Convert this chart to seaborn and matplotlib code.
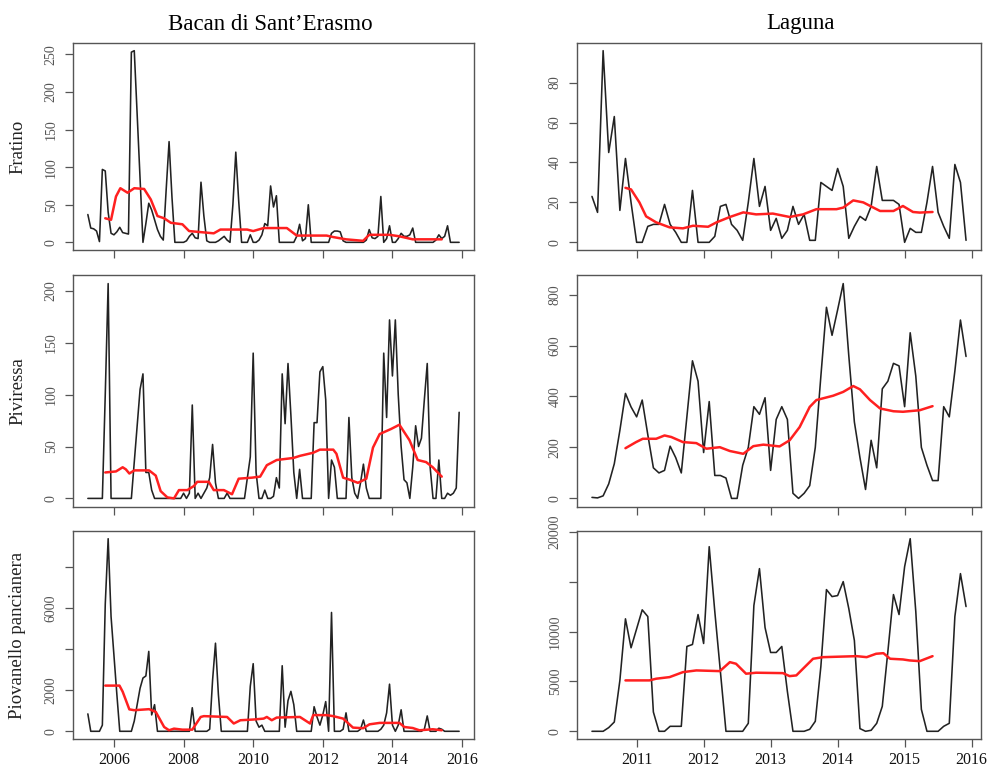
import numpy as np
import matplotlib
matplotlib.use("Agg")
import matplotlib.pyplot as plt
import seaborn as sns

# ---------------- data ----------------
# Bacan di Sant'Erasmo: monthly, Apr 2005 .. Dec 2015
bacan_start = 2005.25
# Laguna: monthly, May 2010 .. Dec 2015
laguna_start = 2010 + 4 / 12

bacan_fratino = [37, 19, 18, 15, 1,
                 97, 95,
                 40, 12, 10, 14, 20, 13, 12, 11,
                 253, 255, 170, 85, 0,
                 25, 52, 43, 30, 17, 8, 3, 70, 134, 60,
                 0, 0, 0, 0, 2, 8, 12, 6, 5,
                 80, 35, 2,
                 0, 0, 0, 2, 5, 8, 3, 0, 50,
                 120, 55, 0,
                 0, 0, 10, 0, 0, 3, 10,
                 25, 22, 75, 47, 62, 0,
                 0, 0, 0, 0, 0, 8, 24, 2, 5,
                 50, 0,
                 0, 0, 0, 0, 0, 0, 12, 15, 15, 14, 2,
                 0, 0, 0, 0, 0, 0, 0, 3, 17, 6, 5, 8,
                 61, 0, 5, 22, 0, 0, 5, 12, 8, 8, 10, 19,
                 0, 0, 0, 0, 0, 0, 0, 3, 10, 5, 8, 22, 0, 0, 0, 0]

bacan_piviressa = [0, 0, 0, 0, 0, 0,
                   100, 207, 0,
                   0, 0, 0, 0, 0, 0, 0,
                   35, 70, 105, 120, 25, 25, 8, 0,
                   0, 0, 0, 0, 0, 0, 0, 0, 0,
                   5, 0, 5, 90, 0, 5, 0, 5, 10, 20, 52, 15, 0,
                   0, 0, 5, 0, 0, 0, 0, 0, 0,
                   20, 40, 140, 25, 0,
                   0, 8, 0, 0, 2, 20, 10,
                   120, 72, 130, 80, 25, 0, 28, 0, 0, 0, 0,
                   73, 73, 122, 127, 95, 0, 37, 30, 0, 0, 0, 0,
                   78, 20, 5, 0, 15, 33, 10, 0, 0, 0, 0, 0,
                   140, 78, 172, 118, 172, 100, 50, 18, 15, 0, 30,
                   70, 50, 58, 95, 130, 30, 0,
                   0, 37, 0, 0, 5, 3, 5, 10, 83]

bacan_piovanello = [850, 0, 0, 0, 0,
                    300, 6200, 9400, 5600, 3700, 1800, 0,
                    0, 0, 0,
                    0, 500, 1300, 2100, 2600, 2700, 3900, 800, 1300, 0,
                    0, 0, 0, 0, 0, 0, 0, 0, 0, 0, 0,
                    1150, 0, 0, 0, 0, 0,
                    100, 2500, 4300, 1800, 0,
                    0, 0, 0, 0, 0, 0, 0, 0, 0,
                    2200, 3300, 500, 200, 300, 0, 0,
                    0, 0, 0, 0, 3200, 200, 1500, 1950, 1300, 0,
                    0, 0, 0, 0, 0,
                    1200, 700, 300, 800, 1450, 0, 5800, 0,
                    0, 0, 100, 900, 0, 0, 0, 0, 100, 550, 0,
                    0, 0, 0, 0, 100, 300, 900, 2300, 300, 0, 300, 1050, 0,
                    0, 0, 0, 0, 0, 0, 100, 750, 0, 0, 0, 150, 100, 0, 0, 0, 0, 0, 0]

laguna_fratino = [23, 15, 96, 45, 63, 16, 42, 20, 0, 0,
                  8, 9, 9, 19, 9, 5, 0, 0, 26, 0,
                  0, 0, 3, 18, 19, 9, 6, 1, 20, 42,
                  18, 28, 6, 12, 2, 6, 18, 9, 14, 1,
                  1, 30, 28, 26, 37, 28, 2, 8, 13, 11,
                  18, 38, 21, 21, 21, 19, 0, 7, 5, 5,
                  20, 38, 15, 8, 2, 39, 30, 1]

laguna_piviressa = [4, 2, 10, 57, 136, 267, 412, 359, 320, 386,
                    250, 120, 100, 110, 205, 160, 100, 320, 540, 460,
                    180, 380, 90, 90, 80, 0, 0, 130, 200, 360,
                    330, 395, 110, 310, 360, 310, 20, 0, 20, 50,
                    200, 480, 750, 640, 740, 843, 560, 300, 160, 35,
                    228, 120, 430, 460, 530, 520, 360, 650, 480, 200,
                    130, 70, 70, 360, 320, 500, 700, 557]

laguna_piovanello = [0, 0, 0, 370, 930, 5100, 11270, 8370, 10270, 12170,
                     11500, 1930, 0, 0, 500, 500, 500, 8500, 8700, 11700,
                     8800, 18500, 12000, 6000, 0, 0, 0, 0, 800, 12600,
                     16300, 10400, 7900, 7900, 8500, 4000, 0, 0, 0, 200,
                     1000, 6500, 14200, 13500, 13600, 15000, 12300, 9100, 270, 0,
                     100, 800, 2500, 8000, 13700, 11700, 16500, 19300, 12000, 2200,
                     0, 0, 0, 500, 800, 11500, 15800, 12500]

# trend (red) lines: month offset from series start, value
bacan_fratino_tr_m = [6, 8, 9.7, 11.2, 13.7, 16, 19.4, 21.7, 24, 26.3, 28.6, 32.6, 34.9, 43.4, 45.7,
                      54.9, 57, 60.6, 68.6, 72, 82.3, 84.6, 89, 94.9, 97, 104, 107.4, 112, 122]
bacan_fratino_tr_v = [32, 30, 61, 72, 66, 72, 71, 57, 35, 32, 26, 24, 15, 12, 17,
                      17, 15, 19, 19, 9, 9, 7, 4, 2, 10, 10, 8, 4, 4]

bacan_piviressa_tr_m = [6, 9.7, 12, 13.1, 14.3, 16, 21.1, 23.4, 25.1, 27.4, 29.7, 31.4, 34.3, 36.6, 37.7,
                        41.7, 43.4, 46.9, 49.7, 52, 56.6, 59.4, 61.7, 65.1, 70.9, 73.1, 77.7, 80, 84.6,
                        85.7, 88, 90.3, 93.1, 96, 98.3, 100.6, 104.6, 107.4, 110.9, 113.7, 116.6, 118.9, 122]
bacan_piviressa_tr_v = [25, 26, 30, 28, 24, 27, 27, 22, 7, 1, 0, 8, 8, 12, 16,
                        16, 8, 8, 4, 19, 20, 21, 32, 37, 39, 41, 44, 47, 47,
                        43, 20, 18, 15, 19, 49, 62, 67, 71, 56, 37, 35, 30, 21]

bacan_piovanello_tr_m = [6, 10.9, 12, 14.3, 16, 21.1, 23.4, 26.3, 28, 29.7, 32.6, 36, 38.9, 40, 48,
                         50.3, 52.6, 57.1, 60.6, 61.7, 63.4, 65.1, 73.1, 76.6, 77.7, 82.3, 84.6, 88,
                         91.4, 94.9, 97.1, 100.6, 107.4, 109.1, 112, 114.3, 118.9, 122]
bacan_piovanello_tr_v = [2230, 2230, 1935, 1070, 1030, 1080, 950, 210, 50, 130, 80, 80, 700, 740, 700,
                         380, 540, 575, 620, 700, 540, 670, 700, 380, 790, 790, 740, 620,
                         180, 150, 340, 410, 410, 210, 160, 50, 100, 50]

laguna_fratino_tr_m = [6, 7, 8.5, 9.7, 11.5, 13.9, 16.3, 18.1, 20.8, 22.3, 24.7, 27.1, 29.4, 32.4,
                       35.4, 37.8, 40.2, 43.8, 45, 46.8, 48.6, 50.4, 51.6, 54, 55.7, 57.5, 58.7, 61]
laguna_fratino_tr_v = [27.3, 26.5, 20, 13, 10, 7.5, 7, 8.3, 7.8, 10, 12.7, 15, 14, 14.4,
                       12.7, 14, 16.6, 16.6, 17.4, 21, 20, 17.4, 15.7, 15.7, 18.2, 15.2, 14.9, 15.2]

laguna_piviressa_tr_m = [6, 7.9, 9.1, 11.5, 13, 14.2, 16.3, 18.7, 20.5, 22.9, 24.7, 27.1, 28.9, 30.7,
                         33.6, 35.4, 37.2, 39, 40.2, 43.2, 45, 46.8, 48, 49.8, 51.6, 54, 55.7, 58.7, 61]
laguna_piviressa_tr_v = [197, 221, 234, 234, 247, 241, 221, 217, 195, 201, 186, 175, 205, 211,
                         204, 228, 280, 359, 386, 403, 418, 441, 428, 386, 353, 342, 340, 346, 362]

laguna_piovanello_tr_m = [6, 10.3, 11.5, 13.9, 16.3, 18.7, 22.9, 24.7, 25.8, 27.6, 29.4, 34.2, 35.4,
                          36.6, 37.8, 39.6, 41.4, 47.4, 49.2, 50.9, 52.2, 53.4, 55.7, 56.9, 58.7, 61]
laguna_piovanello_tr_v = [5100, 5100, 5270, 5430, 5930, 6100, 6030, 6930, 6770, 5770, 5870, 5830, 5530,
                          5600, 6270, 7270, 7430, 7530, 7430, 7770, 7830, 7270, 7200, 7100, 7030, 7530]

col_titles = ["Bacan di Sant\u2019Erasmo", "Laguna"]
row_labels = ["Fratino", "Piviressa", "Piovanello pancianera"]

bacan_xticks = [2006, 2008, 2010, 2012, 2014, 2016]
laguna_xticks = [2011, 2012, 2013, 2014, 2015, 2016]

yticks = {
    (0, 0): ([0, 50, 100, 150, 200, 250], ["0", "50", "100", "150", "200", "250"]),
    (1, 0): ([0, 50, 100, 150, 200], ["0", "50", "100", "150", "200"]),
    (2, 0): ([0, 2000, 4000, 6000, 8000], ["0", "2000", "", "6000", ""]),
    (0, 1): ([0, 20, 40, 60, 80], ["0", "20", "40", "60", "80"]),
    (1, 1): ([0, 200, 400, 600, 800], ["0", "200", "400", "600", "800"]),
    (2, 1): ([0, 5000, 10000, 15000, 20000], ["0", "5000", "10000", "", "20000"]),
}

series = {
    (0, 0): (bacan_start, bacan_fratino, bacan_fratino_tr_m, bacan_fratino_tr_v),
    (1, 0): (bacan_start, bacan_piviressa, bacan_piviressa_tr_m, bacan_piviressa_tr_v),
    (2, 0): (bacan_start, bacan_piovanello, bacan_piovanello_tr_m, bacan_piovanello_tr_v),
    (0, 1): (laguna_start, laguna_fratino, laguna_fratino_tr_m, laguna_fratino_tr_v),
    (1, 1): (laguna_start, laguna_piviressa, laguna_piviressa_tr_m, laguna_piviressa_tr_v),
    (2, 1): (laguna_start, laguna_piovanello, laguna_piovanello_tr_m, laguna_piovanello_tr_v),
}

# ---------------- figure ----------------
sns.set_theme(style="ticks")
plt.rcParams["font.family"] = ["Liberation Serif", "DejaVu Serif"]

W, H = 989, 773
fig = plt.figure(figsize=(W / 100, H / 100), dpi=100)

col_px = [(73, 474), (577, 981)]
row_px = [(43, 250), (275, 507), (531, 739)]

box_color = "#555555"
for (r, c), (start, vals, tr_m, tr_v) in series.items():
    x0, x1 = col_px[c]
    y0, y1 = row_px[r]
    ax = fig.add_axes([x0 / W, 1 - y1 / H, (x1 - x0) / W, (y1 - y0) / H])
    vals = np.asarray(vals, dtype=float)
    t = start + np.arange(len(vals)) / 12.0
    tt = start + np.asarray(tr_m) / 12.0
    sns.lineplot(x=t, y=vals, ax=ax, color="#222222", lw=1.15,
                 estimator=None, sort=False)
    sns.lineplot(x=tt, y=tr_v, ax=ax, color="#ff2020", lw=1.8,
                 estimator=None, sort=False)
    span = t[-1] - t[0]
    ax.set_xlim(t[0] - 0.04 * span, t[-1] + 0.04 * span)
    ymax = vals.max()
    ax.set_ylim(-0.04 * ymax, 1.04 * ymax)
    ax.set_xlabel("")
    ax.set_ylabel("")
    xt = bacan_xticks if c == 0 else laguna_xticks
    ax.set_xticks(xt)
    if r == 2:
        ax.set_xticklabels([str(v) for v in xt], fontsize=11.5, color="#111111")
    else:
        ax.set_xticklabels([])
    yt, yl = yticks[(r, c)]
    ax.set_yticks(yt)
    ax.set_yticklabels(yl, fontsize=10, color="#555555")
    for lab in ax.get_yticklabels():
        lab.set_rotation(90)
        lab.set_va("center")
        lab.set_ha("right")
    for s in ax.spines.values():
        s.set_visible(True)
        s.set_color(box_color)
        s.set_linewidth(1.0)
    ax.tick_params(axis="both", direction="out", length=6, width=0.9,
                   color=box_color)
    ax.tick_params(axis="x", pad=3)
    ax.tick_params(axis="y", pad=5)
    ax.grid(False)
    ax.set_facecolor("white")

    if c == 0:
        fig.text(18 / W, 1 - ((y0 + y1) / 2) / H, row_labels[r], rotation=90,
                 ha="center", va="center", fontsize=13.5, color="#222222")

fig.text(270 / W, 1 - 24 / H, col_titles[0], ha="center", va="center",
         fontsize=16.5, color="black")
fig.text(801 / W, 1 - 24 / H, col_titles[1], ha="center", va="center",
         fontsize=16.5, color="black")

fig.savefig("out.png", dpi=100, facecolor="white")
